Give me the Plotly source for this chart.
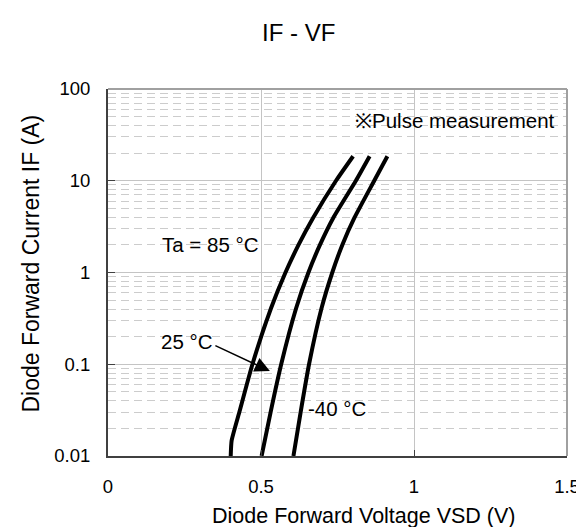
import plotly.graph_objects as go

# ---- data ----
v_85 = [0.401, 0.404, 0.430, 0.472, 0.533, 0.580, 0.623, 0.670, 0.745, 0.801]
i_85 = [0.01, 0.0147, 0.0307, 0.1, 0.41, 1.0, 2.01, 3.93, 10, 18.5]
v_25 = [0.502, 0.532, 0.566, 0.615, 0.655, 0.693, 0.736, 0.810, 0.855]
i_25 = [0.01, 0.0307, 0.1, 0.41, 1.0, 2.01, 3.93, 10, 18.5]
v_m40 = [0.606, 0.630, 0.657, 0.698, 0.733, 0.766, 0.805, 0.870, 0.913]
i_m40 = [0.01, 0.0307, 0.1, 0.41, 1.0, 2.01, 3.93, 10, 18.5]

x_ticks = [0, 0.5, 1, 1.5]
x_tick_labels = ["0", "0.5", "1", "1.5"]
y_ticks = [0.01, 0.1, 1, 10, 100]
y_tick_labels = ["0.01", "0.1", "1", "10", "100"]

FONT = "Liberation Sans, Arial, sans-serif"

fig = go.Figure()
for v, i in [(v_85, i_85), (v_25, i_25), (v_m40, i_m40)]:
    fig.add_trace(go.Scatter(x=v, y=i, mode="lines",
                             line=dict(color="black", width=4, shape="spline", smoothing=0.5),
                             showlegend=False, hoverinfo="skip"))

minor_vals = [m * d for d in [0.01, 0.1, 1, 10] for m in range(2, 10)]

fig.update_layout(
    width=584, height=527,
    margin=dict(l=100, r=16, t=81, b=79),
    paper_bgcolor="white", plot_bgcolor="white",
    font=dict(family=FONT, color="black", size=18.5),
    showlegend=False,
)
fig.update_xaxes(
    range=[0, 1.5], tickvals=x_ticks, ticktext=x_tick_labels,
    showgrid=True, gridcolor="#c4c4c4", gridwidth=1,
    showline=True, linecolor="#404040", linewidth=2,
    ticks="inside", ticklen=6, tickcolor="#404040", tickwidth=1,
    ticklabelstandoff=13, zeroline=False,
    tickfont=dict(size=18.5),
)
fig.update_yaxes(
    type="log", range=[-2, 2], tickvals=y_ticks, ticktext=y_tick_labels,
    showgrid=True, gridcolor="#c4c4c4", gridwidth=1,
    showline=True, linecolor="#404040", linewidth=2,
    ticks="inside", ticklen=7, tickcolor="#404040", tickwidth=1,
    ticklabelstandoff=12, zeroline=False,
    tickfont=dict(size=18.5),
    minor=dict(tickvals=minor_vals, showgrid=True, gridcolor="#cccccc",
               griddash="8px,5px", gridwidth=1, ticks=""),
)

# grey top / right border
fig.add_shape(type="line", xref="paper", yref="paper", x0=0, x1=1, y0=1, y1=1,
              line=dict(color="#a0a0a0", width=2))
fig.add_shape(type="line", xref="paper", yref="paper", x0=1, x1=1, y0=0, y1=1,
              line=dict(color="#a0a0a0", width=2))

ann_font = dict(family=FONT, size=20.5, color="black")
# title and axis titles (placed in paper coords, plot area = 468 x 367 px)
fig.add_annotation(text="IF - VF", xref="paper", yref="paper",
                   x=(294 - 100) / 468, y=(448 - 24) / 367, showarrow=False,
                   xanchor="center", yanchor="middle",
                   font=dict(family=FONT, size=24, color="black"))
fig.add_annotation(text="Diode Forward Voltage VSD (V)", xref="paper", yref="paper",
                   x=(361 - 100) / 468, y=(448 - 508) / 367, showarrow=False,
                   xanchor="center", yanchor="middle",
                   font=dict(family=FONT, size=21.5, color="black"))
fig.add_annotation(text="Diode Forward Current IF (A)", xref="paper", yref="paper",
                   x=(21 - 100) / 468, y=(448 - 256) / 367, showarrow=False,
                   textangle=-90, xanchor="center", yanchor="middle",
                   font=dict(family=FONT, size=23, color="black"))

# curve labels (y in log10 units)
fig.add_annotation(text="Ta = 85 °C", x=0.170, y=0.300, xanchor="left", yanchor="middle",
                   showarrow=False, font=ann_font)
fig.add_annotation(text="25 °C", x=0.167, y=-0.752, xanchor="left", yanchor="middle",
                   showarrow=False, font=ann_font)
fig.add_annotation(text="-40 °C", x=0.647, y=-1.482, xanchor="left", yanchor="middle",
                   showarrow=False, font=ann_font)
fig.add_annotation(text="※Pulse measurement", x=1.468, y=1.662, xanchor="right", yanchor="middle",
                   showarrow=False, font=ann_font)
# arrow from "25 °C" to its curve
fig.add_annotation(text="", x=0.529, y=-1.074, ax=0.346, ay=-0.790,
                   xref="x", yref="y", axref="x", ayref="y",
                   showarrow=True, arrowhead=2, arrowsize=2, arrowwidth=1.5,
                   arrowcolor="black")

fig.write_html("out.html")
